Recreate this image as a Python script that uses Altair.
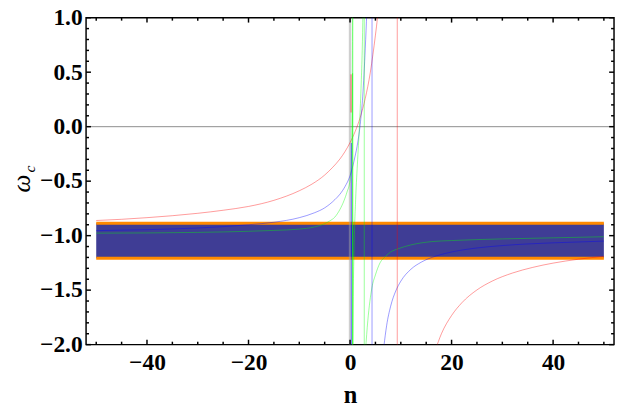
import altair as alt
import pandas as pd

# ---------------- data ----------------
# red curve (two branches)
red_l_x = [-50, -45, -40, -35, -30, -25, -20, -15, -10, -7.5, -5, -3.5, -2, -1, 0, 1, 2, 3, 4, 4.5, 5, 5.4, 5.6]
red_l_y = [-0.861, -0.85, -0.835, -0.817, -0.795, -0.767, -0.732, -0.676, -0.588, -0.527, -0.444, -0.377, -0.297, -0.229, -0.146, -0.045, 0.085, 0.26, 0.50, 0.66, 0.84, 1.0, 1.1]
red_r_x = [16.8, 18, 20, 22, 25, 28, 32, 36, 40, 45, 50]
red_r_y = [-2.05, -1.90, -1.733, -1.617, -1.498, -1.417, -1.343, -1.291, -1.252, -1.216, -1.19]

# blue curve
blue_l_x = [-50, -40, -30, -20, -15, -10, -7, -5, -3, -2, -1, 0, 0.5, 1, 1.5, 2, 2.5, 3, 3.3]
blue_l_y = [-0.954, -0.945, -0.93, -0.90, -0.877, -0.835, -0.79, -0.745, -0.67, -0.62, -0.55, -0.45, -0.37, -0.27, -0.15, 0.02, 0.28, 0.72, 1.05]
blue_r_x = [6.68, 7.2, 8, 9, 10, 12, 14, 17, 20, 25, 30, 35, 40, 45, 50]
blue_r_y = [-2.01, -1.827, -1.647, -1.508, -1.418, -1.308, -1.244, -1.186, -1.15, -1.113, -1.091, -1.076, -1.066, -1.058, -1.05]

# green curve (three branches)
green_a_x = [-50, -40, -30, -20, -15, -10, -7, -5, -4, -3, -2, -1.2, -0.6, 0, 0.2, 0.35, 0.45, 0.5]
green_a_y = [-0.977, -0.975, -0.97, -0.96, -0.952, -0.94, -0.92, -0.89, -0.865, -0.83, -0.76, -0.68, -0.60, -0.49, -0.40, -0.1, 0.4, 1.05]
green_b_x = [0.55, 0.65, 0.8, 1.1, 1.5, 1.9, 2.2, 2.4, 2.55]
green_b_y = [-2.05, -1.5, -1.1, -0.67, -0.3, 0.05, 0.4, 0.7, 1.05]
green_c_x = [3.05, 3.5, 4.3, 5, 5.9, 7, 8, 9.5, 12, 16, 20, 30, 40, 50]
green_c_y = [-2.05, -1.78, -1.48, -1.36, -1.25, -1.19, -1.15, -1.12, -1.085, -1.055, -1.045, -1.03, -1.02, -1.01]

# vertical asymptote lines
asym_x = [9.3, 4.33, 0.55, 2.8]
asym_series = ["red", "blue", "green", "green"]

# short saturated segments near n = 0
strong_x = [0.2, 0.25, 0.5]
strong_lo = [0.13, -2.0, -2.0]
strong_hi = [0.48, -0.15, 0.49]
strong_series = ["red", "blue", "green"]

# band
band_x = [-50, 50]
band_lo = -1.208
band_hi = -0.886

# ticks
x_major = [-40, -20, 0, 20, 40]
x_minor = [-50, -45, -35, -30, -25, -15, -10, -5, 5, 10, 15, 25, 30, 35, 45, 50]
y_major = [-2.0, -1.5, -1.0, -0.5, 0.0, 0.5, 1.0]
y_minor = [-1.9, -1.8, -1.7, -1.6, -1.4, -1.3, -1.2, -1.1, -0.9, -0.8, -0.7, -0.6,
           -0.4, -0.3, -0.2, -0.1, 0.1, 0.2, 0.3, 0.4, 0.6, 0.7, 0.8, 0.9]

# ---------------- tables ----------------
rows = []
def add(series, branch, xs_, ys_):
    for i, (a, b) in enumerate(zip(xs_, ys_)):
        rows.append({"x": a, "y": b, "s": series, "b": branch, "i": i})

add("red", "r1", red_l_x, red_l_y)
add("red", "r2", red_r_x, red_r_y)
add("blue", "b1", blue_l_x, blue_l_y)
add("blue", "b2", blue_r_x, blue_r_y)
add("green", "g1", green_a_x, green_a_y)
add("green", "g2", green_b_x, green_b_y)
add("green", "g3", green_c_x, green_c_y)
curve_df = pd.DataFrame(rows)

asym_df = pd.DataFrame({"x": asym_x, "s": asym_series})
strong_df = pd.DataFrame({"x": strong_x, "lo": strong_lo, "hi": strong_hi, "s": strong_series})
band_df = pd.DataFrame({"x0": [band_x[0]], "x1": [band_x[1]], "lo": [band_lo], "hi": [band_hi]})
edge_df = pd.DataFrame({"x0": [band_x[0]] * 2, "x1": [band_x[1]] * 2, "y": [band_lo, band_hi]})

W, H = 541, 335
FONT = "Liberation Serif"

xs = alt.Scale(domain=[-52, 52], nice=False, zero=False)
ys = alt.Scale(domain=[-2, 1], nice=False, zero=False)
xaxis = alt.Axis(values=x_major, title="n", labelPadding=7, titlePadding=8)
yaxis = alt.Axis(values=y_major, format=".1f", title=None, labelPadding=4)

def X(f):
    return alt.X(f"{f}:Q", scale=xs, axis=xaxis)

def Y(f):
    return alt.Y(f"{f}:Q", scale=ys, axis=yaxis)

color = alt.Color("s:N", scale=alt.Scale(domain=["red", "blue", "green"],
                                         range=["#ff0000", "#0000ff", "#00ff00"]), legend=None)

band = alt.Chart(band_df).mark_rect(color="#3f3d95").encode(x=X("x0"), x2="x1", y=Y("lo"), y2="hi")
edges = alt.Chart(edge_df).mark_rule(color="#ff8a00", strokeWidth=3).encode(x=X("x0"), x2="x1", y=Y("y"))
zero_v = alt.Chart(pd.DataFrame({"x": [0]})).mark_rule(color="#a0a0a0", strokeWidth=2.5, opacity=0.5).encode(x=X("x"))
zero_h = alt.Chart(pd.DataFrame({"y": [0]})).mark_rule(color="#8c8c8c", strokeWidth=1).encode(y=Y("y"))

curves = alt.Chart(curve_df).mark_line(strokeWidth=1, opacity=0.4, clip=True, interpolate="monotone").encode(
    x=X("x"), y=Y("y"), color=color, detail="b:N", order="i:Q")
asym = alt.Chart(asym_df).mark_rule(strokeWidth=1, opacity=0.4).encode(x=X("x"), color=color)
strong = alt.Chart(strong_df).mark_rule(strokeWidth=0.8, opacity=0.75).encode(
    x=X("x"), y=Y("lo"), y2="hi", color=color)

def xticks(vals, L):
    d = pd.DataFrame({"v": vals})
    top = alt.Chart(d).mark_rule(color="black", strokeWidth=1.5).encode(x=X("v"), y=alt.value(0), y2=alt.value(L))
    bot = alt.Chart(d).mark_rule(color="black", strokeWidth=1.5).encode(x=X("v"), y=alt.value(H), y2=alt.value(H - L))
    return [top, bot]

def yticks(vals, L):
    d = pd.DataFrame({"v": vals})
    left = alt.Chart(d).mark_rule(color="black", strokeWidth=1.5).encode(y=Y("v"), x=alt.value(0), x2=alt.value(L))
    right = alt.Chart(d).mark_rule(color="black", strokeWidth=1.5).encode(y=Y("v"), x=alt.value(W), x2=alt.value(W - L))
    return [left, right]

tick_layers = xticks(x_major, 5) + xticks(x_minor, 3) + yticks(y_major, 5) + yticks(y_minor, 3)

omega = alt.Chart(pd.DataFrame({"t": ["ω"]})).mark_text(
    font=FONT, fontSize=26, fontStyle="italic", angle=270, color="black").encode(
    text="t:N", x=alt.value(-65), y=alt.value(170))
sub_c = alt.Chart(pd.DataFrame({"t": ["c"]})).mark_text(
    font=FONT, fontSize=16, fontStyle="italic", angle=270, color="black").encode(
    text="t:N", x=alt.value(-57), y=alt.value(155))

chart = alt.layer(band, edges, zero_v, zero_h, curves, asym, strong, *tick_layers, omega, sub_c).properties(
    width=W, height=H,
    autosize=alt.AutoSizeParams(type="none"),
    padding={"left": 80, "top": 5, "right": 1, "bottom": 60},
).configure_view(stroke="black", strokeWidth=1.5).configure_axis(
    ticks=False, domain=False, grid=False, labelFlush=False,
    labelFont=FONT, labelFontSize=24, labelFontWeight="bold", labelColor="black",
    titleFont=FONT, titleFontSize=25, titleFontWeight="bold", titleColor="black",
)

chart.save("out.html", embed_options={"renderer": "svg", "actions": False})
